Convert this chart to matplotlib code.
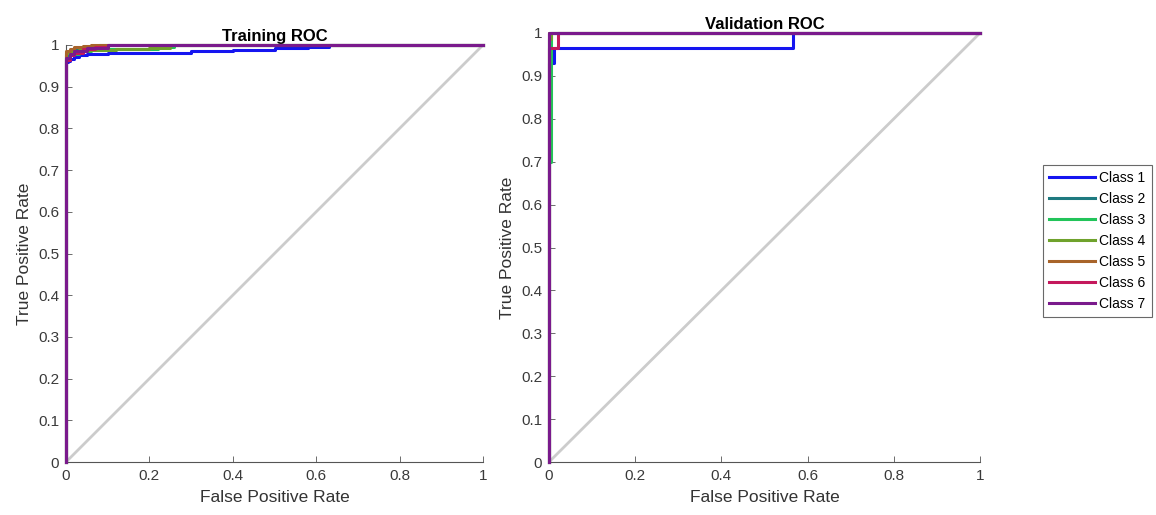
import matplotlib
matplotlib.use("Agg")
import matplotlib.pyplot as plt

# ---------------- data ----------------
class_names = ["Class 1", "Class 2", "Class 3", "Class 4", "Class 5", "Class 6", "Class 7"]
class_colors = ["#1515f0", "#1e7a80", "#22c45a", "#6fa22c", "#a8642a", "#c4185c", "#7a1a8c"]

# Training ROC (FPR, TPR) per class
train_fpr = [
    [0, 0, 0.005, 0.01, 0.02, 0.03, 0.05, 0.1, 0.2, 0.3, 0.4, 0.5, 0.58, 0.63, 0.63, 1],
    [0, 0, 0.01, 0.02, 0.04, 0.06, 0.08, 1],
    [0, 0, 0.01, 0.03, 0.06, 0.15, 0.22, 0.26, 1],
    [0, 0, 0.01, 0.03, 0.06, 0.12, 0.2, 0.25, 1],
    [0, 0, 0.01, 0.02, 0.04, 0.06, 1],
    [0, 0, 0.01, 0.02, 0.04, 0.07, 0.1, 1],
    [0, 0, 0.01, 0.02, 0.05, 0.1, 1],
]
train_tpr = [
    [0, 0.96, 0.962, 0.967, 0.971, 0.975, 0.978, 0.98, 0.982, 0.985, 0.988, 0.992, 0.995, 0.997, 1, 1],
    [0, 0.975, 0.982, 0.988, 0.993, 0.997, 1, 1],
    [0, 0.97, 0.978, 0.985, 0.99, 0.991, 0.995, 1, 1],
    [0, 0.98, 0.984, 0.987, 0.988, 0.99, 0.993, 1, 1],
    [0, 0.985, 0.99, 0.995, 0.998, 1, 1],
    [0, 0.965, 0.975, 0.982, 0.99, 0.996, 1, 1],
    [0, 0.97, 0.978, 0.985, 0.993, 1, 1],
]

# Validation ROC (FPR, TPR) per class
val_fpr = [
    [0, 0, 0.012, 0.012, 0.565, 0.565, 1],
    [0, 0, 1],
    [0, 0, 0.005, 0.005, 1],
    [0, 0, 0.004, 0.004, 1],
    [0, 0, 1],
    [0, 0, 0.022, 0.022, 1],
    [0, 0, 1],
]
val_tpr = [
    [0, 0.93, 0.93, 0.965, 0.965, 1, 1],
    [0, 1, 1],
    [0, 0.7, 0.7, 1, 1],
    [0, 0.985, 0.985, 1, 1],
    [0, 1, 1],
    [0, 0.965, 0.965, 1, 1],
    [0, 1, 1],
]

x_ticks = [0, 0.2, 0.4, 0.6, 0.8, 1]
x_tick_labels = ["0", "0.2", "0.4", "0.6", "0.8", "1"]
y_ticks = [0, 0.1, 0.2, 0.3, 0.4, 0.5, 0.6, 0.7, 0.8, 0.9, 1]
y_tick_labels = ["0", "0.1", "0.2", "0.3", "0.4", "0.5", "0.6", "0.7", "0.8", "0.9", "1"]

# ---------------- plot ----------------
plt.rcParams["font.family"] = ["Liberation Sans", "DejaVu Sans"]
fig = plt.figure(figsize=(11.56, 5.15), dpi=100)

W, H = 1156, 515
ax1 = fig.add_axes([66 / W, 1 - 462 / H, (483 - 66) / W, (462 - 45) / H])
ax2 = fig.add_axes([549 / W, 1 - 462 / H, (980 - 549) / W, (462 - 33) / H])


def style(ax, title):
    ax.plot([0, 1], [0, 1], color="#cccccc", lw=2.0, zorder=1)
    ax.set_xlim(0, 1)
    ax.set_ylim(0, 1)
    ax.set_xticks(x_ticks)
    ax.set_xticklabels(x_tick_labels)
    ax.set_yticks(y_ticks)
    ax.set_yticklabels(y_tick_labels)
    for s in ["top", "right"]:
        ax.spines[s].set_visible(False)
    for s in ["left", "bottom"]:
        ax.spines[s].set_color("#555555")
        ax.spines[s].set_linewidth(0.8)
    ax.tick_params(direction="in", length=4, width=0.6, colors="#555555",
                   labelcolor="#3a3a3a", labelsize=11, pad=5)
    ax.set_xlabel("False Positive Rate", fontsize=12.5, color="#333333", labelpad=5)
    ax.set_ylabel("True Positive Rate", fontsize=12.5, color="#333333", labelpad=4)
    ax.set_title(title, fontsize=12, fontweight="bold", pad=3)


style(ax1, "Training ROC")
style(ax2, "Validation ROC")

handles = []
for i, name in enumerate(class_names):
    ax1.plot(train_fpr[i], train_tpr[i], color=class_colors[i], lw=2.2,
             drawstyle="steps-post", zorder=2 + i, clip_on=False)
    h, = ax2.plot(val_fpr[i], val_tpr[i], color=class_colors[i], lw=2.2,
                  zorder=2 + i, clip_on=False)
    handles.append(h)

leg = fig.legend(handles, class_names, loc="upper left",
                 bbox_to_anchor=(1043 / W, 1 - 165 / H), fontsize=10,
                 frameon=True, fancybox=False, edgecolor="#444444",
                 handlelength=3.3, labelspacing=0.5, borderpad=0.45,
                 handletextpad=0.3, borderaxespad=0)
leg.get_frame().set_linewidth(0.8)

fig.savefig("out.png", dpi=100)
